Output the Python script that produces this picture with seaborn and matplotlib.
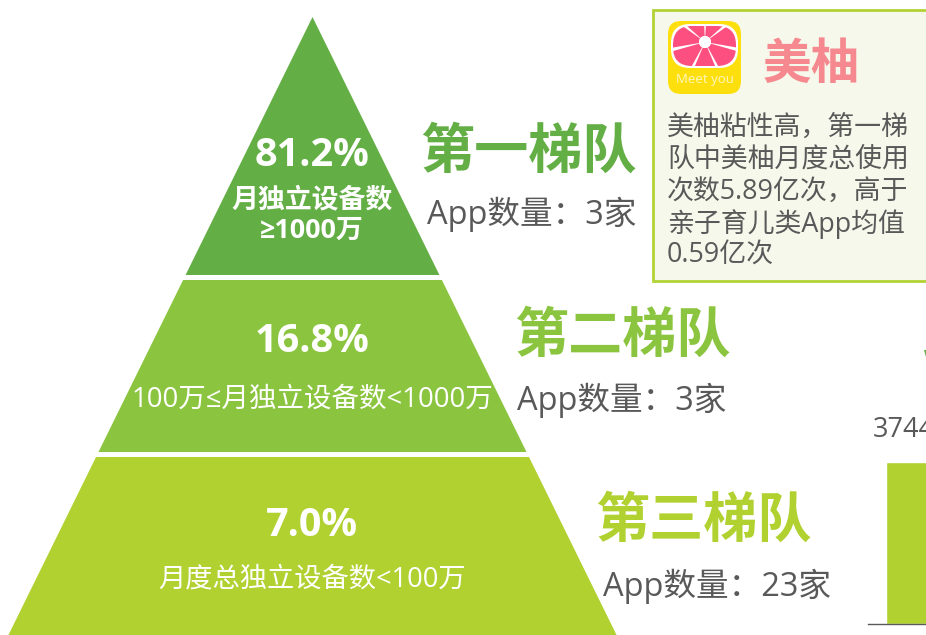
import matplotlib
matplotlib.use("Agg")
import matplotlib.pyplot as plt
import seaborn as sns
import pandas as pd
from matplotlib.patches import Polygon, Rectangle, FancyBboxPatch, Wedge, Circle

sns.set_theme(style="white")
FONT = ['Open Sans', 'Noto Sans CJK SC', 'DejaVu Sans']
CJK = ['Noto Sans CJK SC', 'DejaVu Sans']
plt.rcParams['font.family'] = FONT
plt.rcParams['axes.unicode_minus'] = False

tier_names = ["第一梯队", "第二梯队", "第三梯队"]
tier_shares = ["81.2%", "16.8%", "7.0%"]
tier_counts = ["App数量：3家", "App数量：3家", "App数量：23家"]
tier_rules = ["月独立设备数\n≥1000万", "100万≤月独立设备数<1000万", "月度总独立设备数<100万"]
tier_colors = ["#63ae45", "#8bc53f", "#b0d130"]
note_title = "美柚"
note_lines = ["美柚粘性高，第一梯", "队中美柚月度总使用", "次数5.89亿次，高于", "亲子育儿类App均值", "0.59亿次"]
bar_names = ["第三梯队"]
bar_values = [3744]

W, H = 926, 635
fig = plt.figure(figsize=(W / 100, H / 100), dpi=100, facecolor="white")
ax = fig.add_axes([0, 0, 1, 1])
ax.set_xlim(0, W)
ax.set_ylim(H, 0)
ax.axis("off")

# pyramid
apex_x, apex_y, slope = 312.5, 17, 0.492
bands = [(17, 275), (280, 452), (457, 640)]
for (y0, y1), c in zip(bands, tier_colors):
    l0, l1 = slope * (y0 - apex_y), slope * (y1 - apex_y)
    ax.add_patch(Polygon([(apex_x - l0, y0), (apex_x + l0, y0), (apex_x + l1, y1), (apex_x - l1, y1)],
                         closed=True, fc=c, ec="none"))

share_y = [155, 342, 526]
share_fs = [28.5, 28.5, 28.5]
rule_y = [216, 400, 579]
rule_fs = [19.4, 19.8, 19.6]
rule_w = ["bold", "normal", "normal"]
for s, sy, fs, r, ry, rf, rw in zip(tier_shares, share_y, share_fs, tier_rules, rule_y, rule_fs, rule_w):
    ax.text(312, sy, s, color="white", fontsize=fs, fontweight="bold", ha="center", va="center")
    ax.text(312, ry, r, color="white", fontsize=rf, fontweight=rw, ha="center", va="center", linespacing=1.22)

name_x = [420, 514, 595]
name_y = [152, 336, 521]
count_x = [427, 517, 603]
count_y = [214, 400, 586]
for n, nx, ny, c, cn, cx, cy in zip(tier_names, name_x, name_y, tier_colors, tier_counts, count_x, count_y):
    ax.text(nx, ny, n, color=c, fontsize=39, fontweight="bold", family=CJK, ha="left", va="center")
    ax.text(cx, cy, cn, color="#595959", fontsize=23.5, ha="left", va="center")

# note panel
ax.add_patch(Rectangle((652.5, 9.5), 300, 271, fc="#f5f8ea", ec="#b2d235", lw=2))
ax.text(763, 64, note_title, color="#f5898f", fontsize=35, fontweight="bold", family=CJK, ha="left", va="center")
for i, line in enumerate(note_lines):
    ax.text(667, 128 + 32 * i, line, color="#595959", fontsize=19.4, ha="left", va="center")

# app icon
ax.add_patch(FancyBboxPatch((668, 21), 73, 73, boxstyle="round,pad=0,rounding_size=13", fc="#fedf0e", ec="none", zorder=2))
ax.add_patch(FancyBboxPatch((671, 24), 67, 44, boxstyle="round,pad=0,rounding_size=19", fc="white", ec="none", zorder=3))
clip = FancyBboxPatch((673, 26), 63, 40, boxstyle="round,pad=0,rounding_size=19", fc="none", ec="none", zorder=3)
ax.add_patch(clip)
step = 360 / 7
for k in range(7):
    mid = 90 + k * step
    w = Wedge((705, 42), 42, mid - step / 2 + 3, mid + step / 2 - 3, width=36, fc="#fd4f80", ec="none", zorder=4)
    ax.add_patch(w)
    w.set_clip_path(clip)
ax.add_patch(Circle((705, 42), 6, fc="white", ec="none", zorder=5))
ax.text(704.5, 79, "Meet you", color="#fff6c0", fontsize=9.5, ha="center", va="center", zorder=5)

# partial green mark at the right edge
ax.add_patch(Polygon([(924, 350), (928, 350), (926, 357)], closed=True, fc="#63ae45", ec="none"))

# bar chart, cropped by the right edge
bx = fig.add_axes([868 / W, (H - 624) / H, 100 / W, 162 / H], facecolor="none")
bx.patch.set_visible(False)
df = pd.DataFrame({"name": bar_names, "value": bar_values})
sns.barplot(data=df, x="name", y="value", color=tier_colors[2], saturation=1, width=0.5, ax=bx)
bx.set_xlim(-0.43 , 0.57)
bx.set_ylim(0, bar_values[0])
bx.set_xticks([]); bx.set_yticks([])
bx.set_xlabel(""); bx.set_ylabel("")
sns.despine(ax=bx, left=True, right=True, top=True)
bx.spines["bottom"].set_color("#595959")
bx.spines["bottom"].set_linewidth(1)
ax.text(873, 430, str(bar_values[0]), color="#595959", fontsize=19.5, ha="left", va="center")

fig.savefig("out.png", dpi=100, facecolor="white")
